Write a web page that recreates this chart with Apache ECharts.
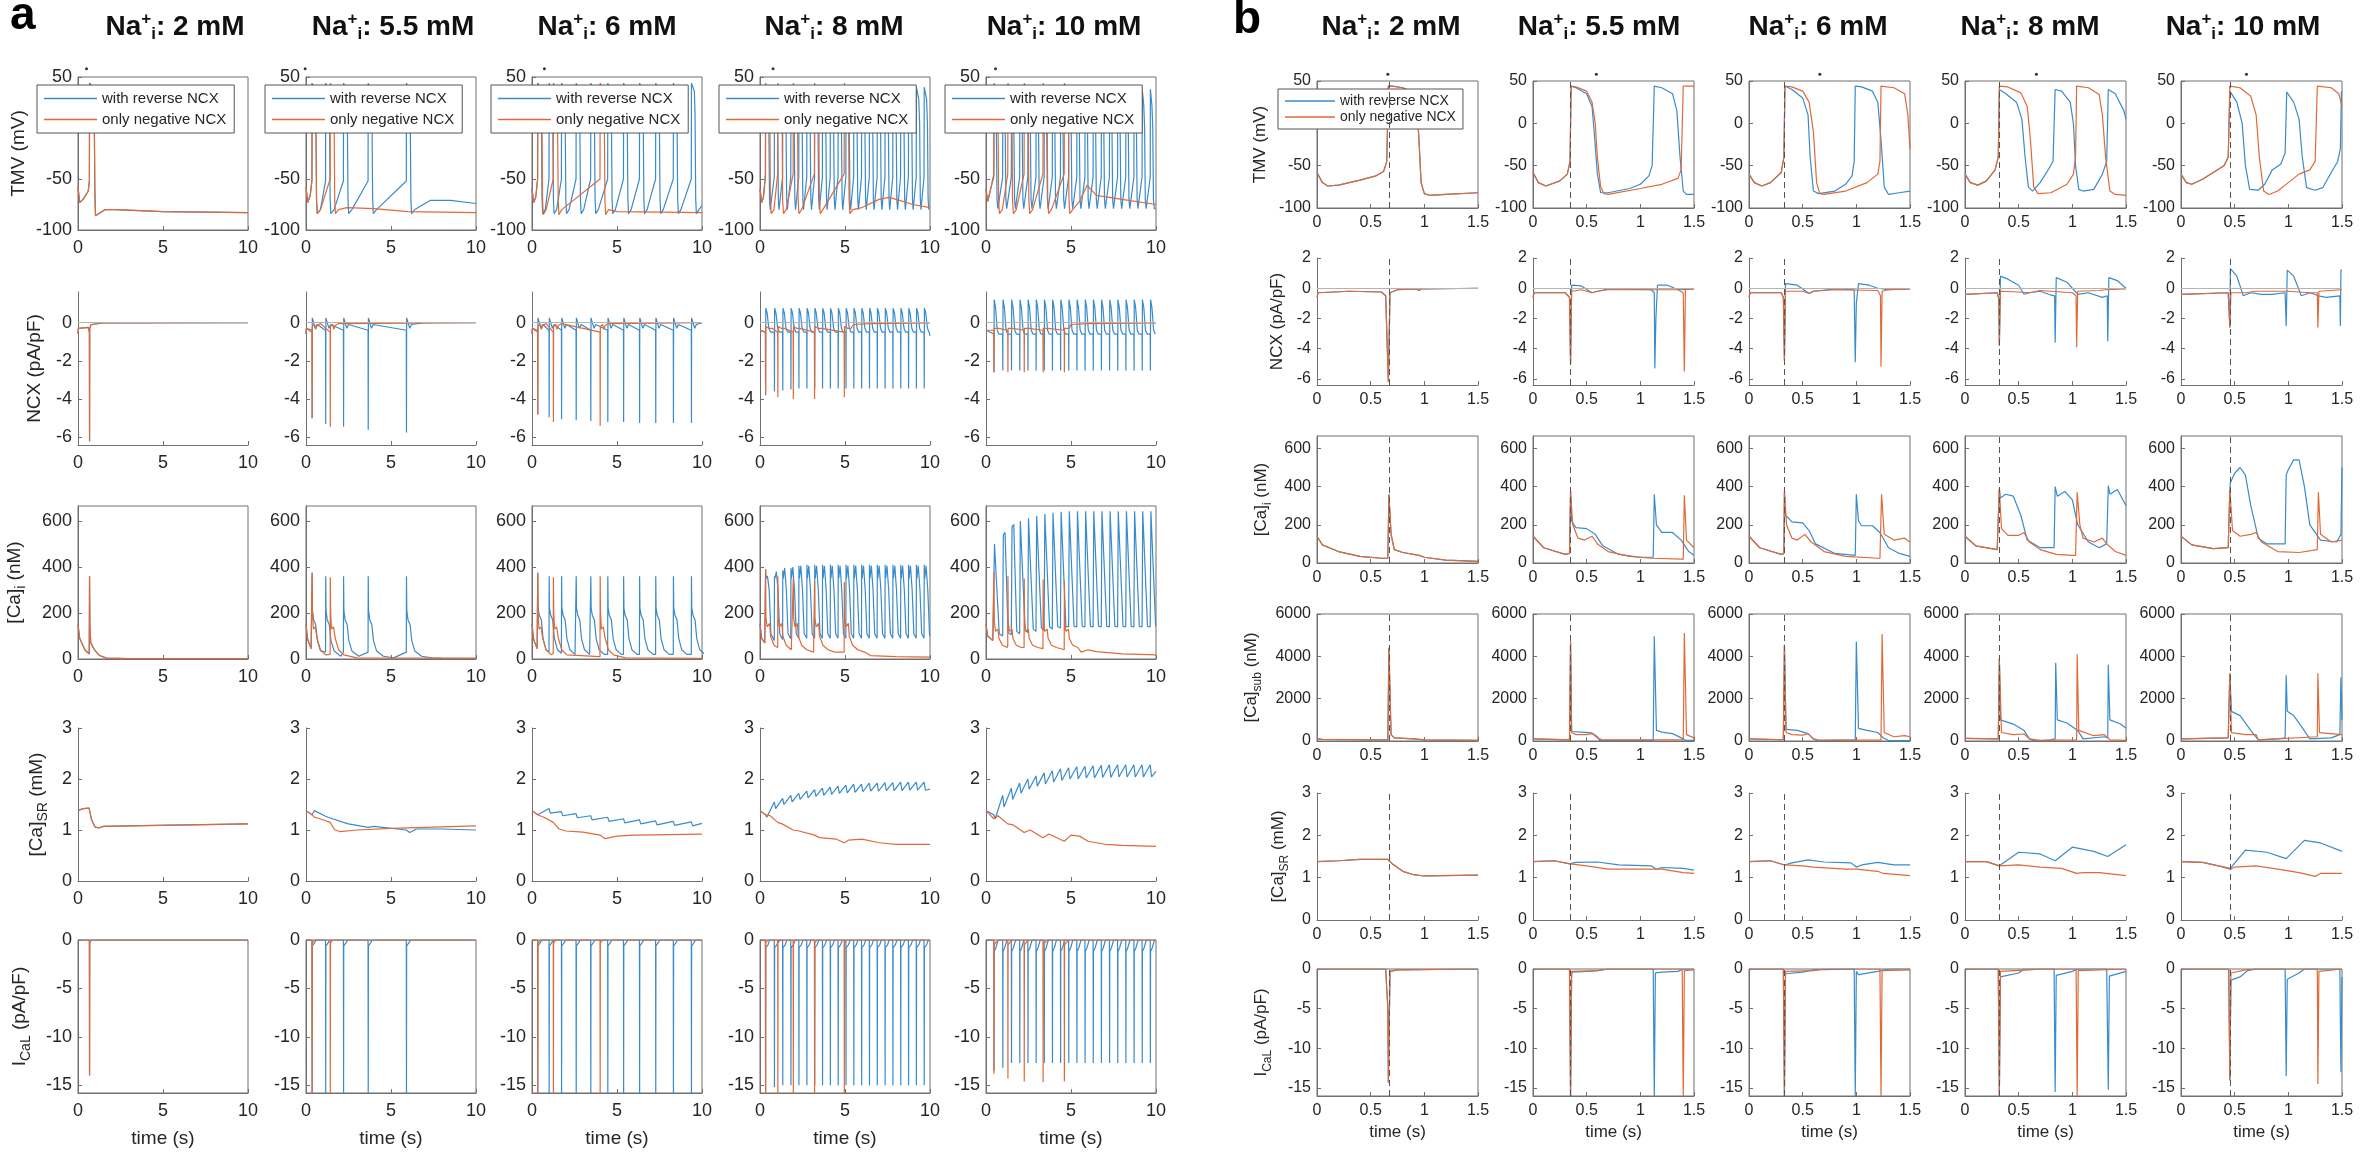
<!DOCTYPE html>
<html><head><meta charset="utf-8">
<script src="https://cdn.jsdelivr.net/npm/echarts@6/dist/echarts.min.js"></script>
<style>html,body{margin:0;padding:0;background:#fff}#c{width:2361px;height:1158px}</style>
</head><body><div id="c"></div>
<script>
// ---------------- DATA ----------------
const concLabels = ['2', '5.5', '6', '8', '10'];
const NAME_B = 'with reverse NCX', NAME_O = 'only negative NCX';

// Panel a: beat (upstroke) times, s
const aBeatsB = [
  [0.67],
  [0.35, 1.15, 2.2, 3.65, 5.9],
  [0.33, 1.0, 1.73, 2.59, 3.45, 4.45, 5.38, 6.32, 7.27, 8.31, 9.37],
  [0.32, 0.84, 1.33, 1.81, 2.28, 2.75, 3.21, 3.67, 4.13, 4.59, 5.05, 5.51, 5.97, 6.43, 6.89, 7.35, 7.81, 8.27, 8.73, 9.19, 9.65],
  [0.46, 0.98, 1.49, 1.98, 2.46, 2.94, 3.42, 3.9, 4.38, 4.86, 5.34, 5.82, 6.3, 6.78, 7.26, 7.74, 8.22, 8.7, 9.18, 9.66]
];
const aBeatsO = [[0.67], [0.35, 1.42], [0.33, 1.25, 4.0], [0.32, 1.04, 1.95, 3.2, 4.95], [0.46, 1.28, 2.24, 3.35, 4.6]];

// Panel a waveforms: pre (before first beat), tpl (per-beat shape [dt, value or per-beat values]), tail (after last beat), or pts
const aTMV_o = [
  {pre: [[0,-58],[0.1,-73],[0.3,-70],[0.6,-62]], tpl: [[0,-52],[0.01,44],[0.2,40],[0.28,30],[0.32,-60],[0.36,-86]], tail: [[1.1,-86],[1.6,-80],[2.2,-80],[5,-82],[10,-83]]},
  {pre: [[0,-58],[0.1,-73],[0.25,-66]], tpl: [[0,-50],[0.01,44],[0.18,36],[0.23,15],[0.27,-70],[0.31,-84],[0.5,-80]], tail: [[1.85,-84],[2.4,-78],[4,-79],[6,-82],[10,-83]]},
  {pre: [[0,-60],[0.1,-73],[0.22,-68]], tpl: [[0,-50],[0.01,44],[0.2,37],[0.25,15],[0.29,-70],[0.33,-85],[0.5,-80]], tail: [[4.4,-85],[5,-82],[10,-83]]},
  {pre: [[0,-60],[0.1,-73],[0.2,-68]], tpl: [[0,-45],[0.01,44],[0.2,36],[0.26,15],[0.29,-70],[0.34,-84],[0.5,-80]], tail: [[5.35,-84],[6,-78],[7,-70],[7.6,-68],[8.2,-71],[9,-75],[10,-78]]},
  {pre: [[0,-60],[0.1,-72],[0.3,-58]], tpl: [[0,-45],[0.01,44],[0.2,36],[0.25,10],[0.28,-70],[0.33,-84],[0.5,-80]], tail: [[5.0,-84],[5.5,-72],[5.95,-56],[6.15,-60],[6.5,-66],[8,-70],[10,-75]]}
];
const aTMV_b = [
  null,
  {pre: [[0,-58],[0.1,-73],[0.25,-66]], tpl: [[0,-52],[0.01,44],[0.18,36],[0.23,15],[0.27,-70],[0.31,-84],[0.5,-80]], tail: [[6.3,-84],[6.8,-76],[7.3,-71],[8.5,-71],[10,-74]]},
  {pre: [[0,-60],[0.1,-73],[0.22,-68]], tpl: [[0,-50],[0.01,44],[0.18,36],[0.22,15],[0.26,-70],[0.3,-84],[0.45,-80]], tail: [[9.75,-84],[10,-76]]},
  {pre: [[0,-60],[0.1,-73],[0.2,-68]], tpl: [[0,-48],[0.01,40],[0.15,28],[0.2,5],[0.24,-70],[0.28,-80]], tail: []},
  {pre: [[0,-60],[0.1,-72],[0.3,-58]], tpl: [[0,-48],[0.01,38],[0.1,22],[0.15,0],[0.19,-70],[0.24,-79]], tail: [[9.97,-79]]}
];
const aNCX_o = [
  {pre: [[0,-0.6],[0.02,-0.3],[0.6,-0.25]], tpl: [[0,-0.5],[0.01,-6.2],[0.02,-0.3],[0.1,-0.1]], tail: [[1.5,-0.02],[10,0]]},
  {pre: [[0,-0.6],[0.02,-0.3]], tpl: [[0,-0.5],[0.01,[-5,-5.45]],[0.02,-0.2],[0.15,-0.1],[0.22,-0.35],[0.3,-0.15],[0.5,-0.05]], tail: [[2,0],[10,0]]},
  {pre: [[0,-0.6],[0.02,-0.3]], tpl: [[0,-0.5],[0.01,[-4.8,-5.2,-5.4]],[0.02,-0.2],[0.15,-0.1],[0.22,-0.35],[0.3,-0.15],[0.5,-0.05]], tail: [[4.6,0],[10,0]]},
  {pre: [[0,-0.4],[0.02,-0.3]], tpl: [[0,-0.5],[0.01,[-3.7,-3.9,-4.0,-4.0,-3.9]],[0.02,-0.2],[0.2,-0.3],[0.4,-0.3]], tail: [[5.5,-0.1],[6.5,-0.05],[10,-0.02]]},
  {pre: [[0,-0.4],[0.02,-0.3]], tpl: [[0,-0.4],[0.01,-2.6],[0.02,-0.3],[0.3,-0.3]], tail: [[5,-0.1],[6,-0.05],[10,-0.02]]}
];
const aNCX_b = [
  null,
  {pre: [[0,-0.6],[0.02,-0.3]], tpl: [[0,-0.4],[0.01,[-5,-5.3,-5.45,-5.6,-5.75]],[0.02,0.25],[0.12,0.2],[0.2,-0.3],[0.3,-0.1],[0.4,-0.05]], tail: [[7,0],[10,0]]},
  {pre: [[0,-0.6],[0.02,-0.3]], tpl: [[0,-0.4],[0.01,[-4.8,-4.95,-5.05,-5.1,-5.15,-5.2,-5.2,-5.25]],[0.02,0.25],[0.12,0.2],[0.2,-0.3],[0.3,-0.1],[0.4,-0.05]], tail: [[10,0]]},
  {pre: [[0,-0.4],[0.02,-0.3]], tpl: [[0,-0.5],[0.01,[-3.8,-3.6,-3.55,-3.5,-3.45]],[0.02,0.75],[0.1,0.5],[0.2,-0.3],[0.3,-0.5]], tail: [[10,-0.7]]},
  {pre: [[0,-0.4],[0.02,-0.3]], tpl: [[0,-0.6],[0.01,[-2.6,-2.5]],[0.02,1.2],[0.1,0.8],[0.2,-0.4],[0.3,-0.6]], tail: [[10,-0.6]]}
];
const aCai_o = [
  {pre: [[0,150],[0.1,90],[0.4,40],[0.66,22]], tpl: [[0,22],[0.01,360],[0.03,150],[0.08,70],[0.3,40],[0.6,15],[1.0,4]], tail: [[3,2],[10,2]]},
  {pre: [[0,150],[0.1,85],[0.3,45]], tpl: [[0,[45,20]],[0.01,[375,355]],[0.03,200],[0.08,130],[0.2,140],[0.3,90],[0.5,40],[0.8,18]], tail: [[3,5],[10,3]]},
  {pre: [[0,150],[0.1,85],[0.3,45]], tpl: [[0,[45,25,10]],[0.01,[375,355,360]],[0.03,200],[0.08,130],[0.2,140],[0.3,90],[0.5,40],[0.8,18]], tail: [[5.5,5],[10,3]]},
  {pre: [[0,150],[0.1,90],[0.28,70]], tpl: [[0,[70,50,40,35,30]],[0.01,[390,360,350,340,335]],[0.03,180],[0.1,140],[0.25,155],[0.3,100],[0.5,60],[0.8,40],[1.2,30]], tail: [[6.5,15],[8,10],[10,8]]},
  {pre: [[0,150],[0.1,100],[0.4,80]], tpl: [[0,[80,60,50,45,40]],[0.01,[380,360,350,345,340]],[0.03,160],[0.1,120],[0.25,130],[0.3,90],[0.5,60],[0.8,50]], tail: [[5.6,30],[6.0,40],[6.5,32],[8,22],[10,18]]}
];
const aCai_b = [
  null,
  {pre: [[0,150],[0.1,85],[0.3,45]], tpl: [[0,[45,30]],[0.01,[375,360]],[0.03,210],[0.1,170],[0.22,150],[0.32,80],[0.5,35],[0.9,12],[1.5,5]], tail: [[8,4],[10,3]]},
  {pre: [[0,150],[0.1,85],[0.3,45]], tpl: [[0,[45,30,25,20]],[0.01,[375,360]],[0.03,220],[0.1,190],[0.22,170],[0.32,90],[0.5,40],[0.8,20]], tail: [[10,15]]},
  {pre: [[0,150],[0.1,90],[0.28,70]], tpl: [[0,[70,80,85,88,90]],[0.01,[390,360,385,395,405,410]],[0.04,350],[0.12,[360,380,395,400,405]],[0.22,300],[0.32,110]], tail: [[10,100]]},
  {pre: [[0,150],[0.1,100],[0.4,80]], tpl: [[0,[80,100,105,110,115,120,125,130,135,140]],[0.04,[500,540,575,600,612,622,630,636,640,642]],[0.14,[500,550,585,605,618,628,635,640,643,645]],[0.32,[110,115,120,125,130,135,140,140,142,142]]], tail: [[10,140]]}
];
const aCaSR_o = [
  {pts: [[0,1.38],[0.3,1.42],[0.65,1.43],[0.8,1.2],[1.0,1.06],[1.2,1.04],[1.5,1.07],[3,1.08],[10,1.12]]},
  {pts: [[0,1.38],[0.35,1.3],[0.5,1.25],[1.0,1.2],[1.42,1.15],[1.7,1.0],[2.0,0.97],[3,1.0],[5,1.03],[10,1.08]]},
  {pts: [[0,1.38],[0.33,1.3],[0.7,1.25],[1.25,1.15],[1.6,1.02],[2,0.98],[3,0.96],[4,0.9],[4.3,0.83],[5,0.88],[6,0.9],[10,0.92]]},
  {pts: [[0,1.38],[0.32,1.3],[0.6,1.28],[1.04,1.15],[1.3,1.12],[1.95,1.0],[2.3,0.98],[3.2,0.9],[3.5,0.85],[4.5,0.82],[4.95,0.75],[5.2,0.8],[6,0.82],[7,0.75],[8,0.72],[10,0.72]]},
  {pts: [[0,1.38],[0.46,1.22],[0.7,1.28],[1.28,1.12],[1.6,1.1],[2.24,0.95],[2.6,1.0],[3.35,0.85],[3.7,0.92],[4.6,0.78],[5.0,0.9],[5.5,0.88],[6,0.78],[7,0.72],[8,0.7],[10,0.68]]}
];
const aCaSR_b = [
  null,
  {pts: [[0,1.38],[0.35,1.3],[0.5,1.38],[1.15,1.27],[1.3,1.25],[2.2,1.15],[2.5,1.12],[3.65,1.05],[4.0,1.07],[5.9,1.0],[6.1,0.95],[6.5,1.02],[8,1.02],[10,1.0]]},
  {pre: [[0,1.38]], tpl: [[0,[1.3,1.42,1.36,1.32,1.28,1.25,1.22,1.2,1.18,1.17,1.16]],[0.08,[1.28,1.33,1.28,1.24,1.2,1.17,1.14,1.12,1.1,1.09,1.08]]], tail: [[10,1.13]]},
  {pre: [[0,1.38]], tpl: [[0,[1.3,1.55,1.62,1.68,1.72,1.76,1.79,1.82,1.84,1.86,1.88,1.9,1.9,1.92,1.92,1.93,1.93,1.94,1.94,1.94,1.94]],[0.08,[1.25,1.42,1.5,1.55,1.6,1.63,1.66,1.68,1.7,1.72,1.73,1.74,1.75,1.76,1.76,1.77,1.77,1.77,1.78,1.78,1.78]]], tail: [[10,1.8]]},
  {pre: [[0,1.38]], tpl: [[0,[1.3,1.68,1.82,1.92,2.0,2.06,2.12,2.16,2.2,2.22,2.24,2.25,2.26,2.27,2.28]],[0.08,[1.22,1.45,1.6,1.72,1.8,1.86,1.9,1.94,1.97,2.0,2.0,2.02,2.02,2.03,2.03,2.04]]], tail: [[10,2.15]]}
];
const aICaL_o = [
  {pre: [[0,0]], tpl: [[0,0],[0.01,-14],[0.02,-0.3],[0.1,0]], tail: [[10,0]]},
  {pre: [[0,0]], tpl: [[0,0],[0.01,-16],[0.02,-0.3],[0.15,0]], tail: [[10,0]]},
  {pre: [[0,0]], tpl: [[0,0],[0.01,-16],[0.02,-0.3],[0.15,0]], tail: [[10,0]]},
  {pre: [[0,0]], tpl: [[0,0],[0.01,-16],[0.02,-0.3],[0.15,0]], tail: [[10,0]]},
  {pre: [[0,0]], tpl: [[0,0],[0.01,[-13.8,-14.3,-14.6,-14.7,-14.6]],[0.02,-0.5],[0.15,-0.2],[0.3,0]], tail: [[10,0]]}
];
const aICaL_b = [
  null,
  {pre: [[0,0]], tpl: [[0,0],[0.01,-16],[0.02,-0.6],[0.15,-0.3],[0.25,0]], tail: [[10,0]]},
  {pre: [[0,0]], tpl: [[0,0],[0.01,-16],[0.02,-0.6],[0.15,-0.3],[0.25,0]], tail: [[10,0]]},
  {pre: [[0,0]], tpl: [[0,0],[0.01,[-16,-15.2,-15]],[0.02,-0.8],[0.15,-0.5],[0.25,0]], tail: [[10,0]]},
  {pre: [[0,0]], tpl: [[0,0],[0.01,[-13.5,-13.2,-12.7]],[0.02,-1.2],[0.12,-0.8],[0.25,0]], tail: [[10,0]]}
];
const aDots = [0.5, -0.05, 0.73, 0.77, 0.56];

// Panel b: stimulus (dashed) times and traces, [t, value]
const bStim = [0.665, 0.35, 0.33, 0.32, 0.46];
const bDots = [0.66, 0.59, 0.66, 0.665, 0.61];
const bTMV_o = [
  [[0,-58],[0.05,-70],[0.1,-74],[0.2,-73],[0.4,-67],[0.55,-62],[0.62,-57],[0.65,-45],[0.665,44],[0.7,44],[0.8,42],[0.9,36],[0.93,25],[0.95,-20],[0.97,-70],[1.0,-83],[1.05,-85],[1.2,-84],[1.5,-82]],
  [[0,-58],[0.05,-70],[0.12,-74],[0.25,-68],[0.32,-60],[0.345,-45],[0.355,44],[0.4,43],[0.5,38],[0.55,25],[0.58,0],[0.6,-40],[0.63,-75],[0.66,-83],[0.7,-84],[1.0,-77],[1.2,-72],[1.35,-65],[1.38,-55],[1.4,44],[1.5,44]],
  [[0,-60],[0.05,-70],[0.12,-74],[0.2,-70],[0.3,-58],[0.325,-40],[0.335,44],[0.4,43],[0.5,38],[0.56,25],[0.6,-10],[0.63,-70],[0.66,-83],[0.7,-84],[0.9,-80],[1.1,-70],[1.2,-60],[1.22,-45],[1.23,44],[1.35,42],[1.45,35],[1.48,10],[1.5,-30]],
  [[0,-60],[0.05,-70],[0.12,-73],[0.2,-68],[0.28,-55],[0.31,-40],[0.32,44],[0.4,43],[0.52,36],[0.58,20],[0.61,-20],[0.64,-75],[0.68,-83],[0.8,-82],[0.95,-72],[1.01,-60],[1.03,-40],[1.04,44],[1.15,42],[1.25,34],[1.28,10],[1.31,-40],[1.35,-80],[1.4,-84],[1.5,-85]],
  [[0,-60],[0.05,-70],[0.1,-72],[0.2,-66],[0.3,-58],[0.4,-50],[0.44,-40],[0.455,44],[0.55,42],[0.65,32],[0.7,10],[0.73,-40],[0.77,-80],[0.82,-84],[0.9,-80],[1.0,-70],[1.1,-60],[1.2,-55],[1.25,-45],[1.27,44],[1.4,42],[1.47,35],[1.5,20]]
];
const bTMV_b = [
  null,
  [[0.355,44],[0.4,42],[0.5,35],[0.55,20],[0.57,-10],[0.6,-60],[0.63,-82],[0.7,-82],[0.9,-77],[1.0,-72],[1.08,-62],[1.11,-50],[1.13,44],[1.2,42],[1.3,35],[1.34,15],[1.37,-40],[1.4,-80],[1.43,-84],[1.5,-84]],
  [[0.335,44],[0.4,40],[0.5,30],[0.55,10],[0.57,-40],[0.6,-80],[0.65,-83],[0.8,-80],[0.9,-72],[0.96,-62],[0.98,-45],[0.99,44],[1.05,43],[1.15,38],[1.2,25],[1.23,-20],[1.26,-75],[1.3,-84],[1.4,-82],[1.5,-80]],
  [[0.32,40],[0.38,35],[0.48,25],[0.53,5],[0.56,-40],[0.59,-75],[0.63,-80],[0.7,-70],[0.76,-58],[0.82,-45],[0.84,40],[0.9,38],[0.98,25],[1.01,0],[1.03,-50],[1.06,-78],[1.1,-80],[1.2,-78],[1.28,-60],[1.32,-45],[1.335,40],[1.4,35],[1.48,15],[1.5,5]],
  [[0.455,38],[0.52,25],[0.57,0],[0.6,-50],[0.64,-78],[0.72,-79],[0.78,-72],[0.85,-55],[0.93,-48],[0.97,-35],[0.985,37],[1.05,25],[1.1,5],[1.13,-40],[1.17,-76],[1.25,-79],[1.32,-76],[1.4,-58],[1.46,-45],[1.485,-30],[1.495,38],[1.5,38]]
];
const bNCX_o = [
  [[0,-0.6],[0.01,-0.3],[0.3,-0.2],[0.6,-0.25],[0.64,-0.5],[0.665,-6.2],[0.68,-0.3],[0.75,-0.1],[0.93,-0.05],[0.95,-0.15],[0.97,-0.05],[1.5,0]],
  [[0,-0.6],[0.01,-0.3],[0.3,-0.3],[0.34,-0.6],[0.35,-5],[0.36,-0.2],[0.45,-0.1],[0.55,-0.3],[0.6,-0.2],[0.7,-0.1],[1.35,-0.1],[1.4,-0.3],[1.41,-5.5],[1.42,-0.1],[1.5,-0.05]],
  [[0,-0.6],[0.01,-0.3],[0.3,-0.3],[0.32,-0.6],[0.33,-4.8],[0.34,-0.2],[0.5,-0.2],[0.56,-0.35],[0.6,-0.2],[0.8,-0.1],[1.2,-0.15],[1.225,-0.5],[1.23,-5.2],[1.24,-0.2],[1.3,-0.1],[1.5,-0.05]],
  [[0,-0.4],[0.01,-0.3],[0.3,-0.3],[0.315,-0.7],[0.32,-3.8],[0.33,-0.2],[0.5,-0.25],[0.6,-0.3],[0.7,-0.15],[1.0,-0.3],[1.035,-0.5],[1.04,-3.9],[1.05,-0.2],[1.25,-0.15],[1.3,-0.1],[1.5,-0.05]],
  [[0,-0.4],[0.01,-0.3],[0.44,-0.3],[0.455,-2.6],[0.465,-0.3],[0.6,-0.3],[0.7,-0.2],[1.0,-0.2],[1.2,-0.3],[1.27,-0.3],[1.275,-2.6],[1.285,-0.2],[1.5,-0.1]]
];
const bNCX_b = [
  null,
  [[0.355,-5],[0.36,0.2],[0.45,0.15],[0.55,-0.3],[0.6,-0.2],[0.7,-0.05],[1.1,-0.1],[1.13,-0.3],[1.135,-5.3],[1.145,-2],[1.16,0.2],[1.25,0.2],[1.32,0],[1.36,-0.1],[1.5,-0.05]],
  [[0.335,-4.8],[0.34,0.3],[0.45,0.2],[0.56,-0.35],[0.6,-0.2],[0.8,-0.05],[0.98,-0.1],[0.99,-4.9],[1.0,-1],[1.02,0.3],[1.12,0.2],[1.2,0],[1.3,-0.1],[1.5,-0.05]],
  [[0.325,-3.8],[0.33,0.8],[0.4,0.6],[0.5,0.2],[0.55,-0.4],[0.6,-0.3],[0.7,-0.2],[0.8,-0.45],[0.835,-0.5],[0.84,-3.6],[0.85,0.7],[0.95,0.4],[1.0,0],[1.05,-0.4],[1.15,-0.3],[1.28,-0.6],[1.325,-0.5],[1.33,-3.5],[1.34,0.7],[1.42,0.5],[1.5,0.0]],
  [[0.455,-2.6],[0.46,1.3],[0.52,0.8],[0.58,-0.5],[0.65,-0.3],[0.75,-0.4],[0.85,-0.4],[0.97,-0.3],[0.98,-2.5],[0.99,1.2],[1.05,0.8],[1.12,-0.5],[1.2,-0.3],[1.28,-0.5],[1.35,-0.6],[1.48,-0.5],[1.485,-2.5],[1.49,1.2],[1.5,1.2]]
];
const bCai_o = [
  [[0,140],[0.05,95],[0.2,60],[0.4,35],[0.6,25],[0.66,25],[0.67,360],[0.69,150],[0.72,70],[0.8,55],[0.95,40],[1.0,30],[1.2,15],[1.5,8]],
  [[0,140],[0.1,80],[0.3,45],[0.34,50],[0.35,375],[0.37,200],[0.42,130],[0.48,120],[0.55,140],[0.6,100],[0.7,60],[0.9,35],[1.1,25],[1.4,20],[1.41,355],[1.43,120],[1.5,80]],
  [[0,140],[0.1,80],[0.3,45],[0.325,50],[0.33,375],[0.35,200],[0.4,130],[0.45,120],[0.52,150],[0.58,110],[0.7,60],[0.9,35],[1.2,25],[1.22,25],[1.235,360],[1.26,150],[1.35,120],[1.45,130],[1.5,110]],
  [[0,140],[0.1,90],[0.3,70],[0.315,75],[0.32,390],[0.34,180],[0.4,145],[0.5,145],[0.55,160],[0.6,110],[0.7,70],[0.85,45],[1.0,40],[1.03,40],[1.045,370],[1.07,200],[1.1,130],[1.2,110],[1.28,130],[1.32,100],[1.4,60],[1.5,40]],
  [[0,140],[0.1,95],[0.3,75],[0.44,80],[0.455,385],[0.48,170],[0.55,140],[0.65,150],[0.7,160],[0.75,110],[0.9,60],[1.1,55],[1.27,70],[1.28,370],[1.3,150],[1.4,110],[1.5,120]]
];
const bCai_b = [
  null,
  [[0.355,375],[0.36,220],[0.4,185],[0.5,180],[0.58,150],[0.65,90],[0.8,45],[1.0,30],[1.12,30],[1.13,360],[1.15,200],[1.2,160],[1.3,160],[1.38,120],[1.45,60],[1.5,40]],
  [[0.335,375],[0.34,250],[0.4,215],[0.5,210],[0.56,170],[0.62,100],[0.8,50],[0.99,40],[1.0,360],[1.02,220],[1.05,195],[1.15,195],[1.22,160],[1.3,80],[1.4,50],[1.5,35]],
  [[0.325,390],[0.33,340],[0.38,360],[0.45,350],[0.52,250],[0.58,120],[0.7,80],[0.83,80],[0.84,400],[0.86,350],[0.93,375],[1.0,330],[1.05,200],[1.15,110],[1.25,80],[1.32,100],[1.335,405],[1.35,360],[1.42,385],[1.5,300]],
  [[0.46,420],[0.5,470],[0.55,500],[0.6,460],[0.65,300],[0.72,130],[0.8,100],[0.97,100],[0.98,460],[1.0,490],[1.05,540],[1.1,540],[1.15,400],[1.2,200],[1.3,120],[1.45,110],[1.49,150],[1.5,500]]
];
const bCasub_o = [
  [[0,100],[0.05,80],[0.6,50],[0.66,50],[0.67,4400],[0.69,300],[0.72,150],[0.9,100],[1.0,50],[1.5,30]],
  [[0,100],[0.34,50],[0.35,4700],[0.36,400],[0.4,300],[0.5,300],[0.55,350],[0.6,150],[0.65,50],[1.4,50],[1.41,5100],[1.43,300],[1.5,150]],
  [[0,100],[0.32,60],[0.33,4550],[0.345,400],[0.4,300],[0.5,280],[0.55,350],[0.6,100],[0.65,40],[1.23,40],[1.24,5050],[1.26,400],[1.35,200],[1.45,250],[1.5,200]],
  [[0,120],[0.31,100],[0.32,3900],[0.34,400],[0.45,300],[0.55,330],[0.6,100],[0.7,30],[1.04,50],[1.045,4100],[1.06,500],[1.2,250],[1.3,300],[1.35,50],[1.5,30]],
  [[0,100],[0.44,150],[0.455,3200],[0.47,400],[0.6,300],[0.7,300],[0.72,50],[1.27,200],[1.275,3200],[1.29,400],[1.5,300]]
];
const bCasub_b = [
  null,
  [[0.355,4700],[0.36,450],[0.45,420],[0.55,380],[0.6,200],[0.62,30],[1.12,30],[1.13,4950],[1.15,500],[1.2,420],[1.3,350],[1.4,100],[1.42,30],[1.5,30]],
  [[0.335,4550],[0.345,550],[0.45,500],[0.55,350],[0.6,100],[0.63,20],[0.99,50],[1.0,4700],[1.02,600],[1.1,500],[1.2,400],[1.25,150],[1.3,20],[1.5,20]],
  [[0.325,3900],[0.33,1000],[0.45,800],[0.55,500],[0.6,100],[0.65,0],[0.8,50],[0.84,100],[0.845,3700],[0.86,1000],[0.95,850],[1.05,500],[1.1,100],[1.3,200],[1.33,150],[1.335,3600],[1.35,1000],[1.45,800],[1.5,600]],
  [[0.46,3200],[0.47,1400],[0.55,1200],[0.65,500],[0.72,50],[0.9,100],[0.97,150],[0.98,3100],[0.99,1400],[1.05,1200],[1.12,700],[1.2,100],[1.4,150],[1.48,300],[1.49,3000],[1.5,1000]]
];
const bCaSR_o = [
  [[0,1.38],[0.2,1.4],[0.4,1.43],[0.66,1.43],[0.7,1.33],[0.8,1.15],[0.9,1.07],[1.0,1.04],[1.5,1.06]],
  [[0,1.38],[0.2,1.4],[0.33,1.33],[0.5,1.28],[0.7,1.2],[1.0,1.2],[1.2,1.2],[1.4,1.12],[1.5,1.1]],
  [[0,1.38],[0.2,1.4],[0.33,1.3],[0.5,1.28],[0.6,1.25],[0.9,1.2],[1.0,1.2],[1.2,1.15],[1.25,1.1],[1.5,1.05]],
  [[0,1.38],[0.2,1.38],[0.32,1.28],[0.5,1.3],[0.7,1.25],[0.9,1.22],[1.04,1.1],[1.1,1.12],[1.25,1.12],[1.5,1.05]],
  [[0,1.38],[0.2,1.36],[0.35,1.28],[0.46,1.2],[0.5,1.25],[0.7,1.28],[0.9,1.2],[1.1,1.12],[1.25,1.03],[1.3,1.1],[1.5,1.1]]
];
const bCaSR_b = [
  null,
  [[0.35,1.33],[0.4,1.36],[0.6,1.37],[0.8,1.3],[1.1,1.28],[1.15,1.2],[1.2,1.24],[1.4,1.22],[1.5,1.18]],
  [[0.33,1.3],[0.4,1.35],[0.55,1.42],[0.7,1.37],[0.95,1.35],[1.0,1.25],[1.05,1.3],[1.2,1.36],[1.35,1.3],[1.5,1.3]],
  [[0.32,1.28],[0.5,1.6],[0.7,1.56],[0.84,1.4],[1.0,1.72],[1.2,1.62],[1.33,1.5],[1.5,1.78]],
  [[0.46,1.22],[0.6,1.65],[0.8,1.6],[0.98,1.45],[1.15,1.88],[1.3,1.82],[1.5,1.62]]
];
const bICaL_o = [
  [[0,0],[0.64,0],[0.66,-5],[0.665,-14.3],[0.68,-0.3],[0.75,-0.1],[1.5,0]],
  [[0,0],[0.34,0],[0.35,-16],[0.36,-0.3],[0.6,-0.2],[0.7,0],[1.39,0],[1.4,-16],[1.41,-0.2],[1.5,-0.1]],
  [[0,0],[0.32,0],[0.33,-16],[0.34,-0.3],[0.6,-0.2],[0.7,0],[1.22,0],[1.23,-16],[1.24,-0.2],[1.5,-0.1]],
  [[0,0],[0.31,0],[0.32,-16],[0.33,-0.3],[0.6,-0.1],[0.7,0],[1.035,0],[1.045,-16],[1.055,-0.2],[1.5,0]],
  [[0,0],[0.445,0],[0.455,-14],[0.465,-0.5],[0.6,-0.1],[0.7,0],[1.27,0],[1.275,-14.5],[1.285,-0.3],[1.5,0]]
];
const bICaL_b = [
  null,
  [[0.355,-16],[0.36,-0.4],[0.5,-0.3],[0.6,-0.2],[0.7,0],[1.12,0],[1.13,-16],[1.14,-0.5],[1.2,-0.4],[1.35,-0.3],[1.4,0],[1.5,0]],
  [[0.335,-16],[0.34,-0.6],[0.5,-0.4],[0.6,-0.1],[0.98,0],[0.99,-16],[1.0,-0.3],[1.02,-0.7],[1.2,-0.3],[1.3,0],[1.5,0]],
  [[0.325,-16],[0.33,-1],[0.5,-0.5],[0.55,0],[0.83,0],[0.84,-15.5],[0.85,-0.8],[1.0,-0.3],[1.05,0],[1.32,0],[1.335,-15.2],[1.345,-0.9],[1.5,-0.3]],
  [[0.46,-14],[0.465,-1.4],[0.55,-1],[0.62,-0.2],[0.7,0],[0.97,0],[0.98,-13.5],[0.99,-1.3],[1.1,-0.5],[1.15,0],[1.48,0],[1.49,-13],[1.5,-1]]
];

// ---------------- LAYOUT / STYLE ----------------
const FONT = "'Liberation Sans', Arial, Helvetica, sans-serif";
const BLUE = '#3a8bcb', ORANGE = '#df6a38', AX = '#707070', TXT = '#262626';
const aLeft = [78, 306, 532, 760, 986], aW = 170, aTop = [77, 292, 506, 728, 940], aH = 153;
const bLeft = [1317, 1533, 1749, 1965, 2181], bW = 161, bTop = [81, 258, 436, 614, 793, 969], bH = 127;
const aTitleX = [175, 393, 607, 834, 1064], bTitleX = [1391, 1599, 1818, 2030, 2243];

function build(spec, beats) {
  if (spec.pts) return spec.pts;
  const pts = [];
  const first = beats[0] + spec.tpl[0][0];
  (spec.pre || []).forEach(p => { if (p[0] < first) pts.push(p); });
  beats.forEach((t, i) => {
    const next = i + 1 < beats.length ? beats[i + 1] : Infinity;
    spec.tpl.forEach(([dt, v]) => {
      const tt = t + dt;
      if (tt < next - 0.004) pts.push([Math.round(tt * 1000) / 1000, Array.isArray(v) ? v[Math.min(i, v.length - 1)] : v]);
    });
  });
  const lastT = pts.length ? pts[pts.length - 1][0] : -1;
  (spec.tail || []).forEach(p => { if (p[0] > lastT) pts.push(p); });
  return pts;
}
function withPrefix(o, b) { return o.filter(p => p[0] < b[0][0]).concat(b); }

const grids = [], xAxis = [], yAxis = [], series = [], legend = [], graphic = [];

function addGrid(o) {
  const g = grids.length;
  grids.push({left: o.left, top: o.top, width: o.w, height: o.h, show: o.box, borderColor: AX, borderWidth: 1,
    backgroundColor: 'transparent', containLabel: false, outerBoundsMode: 'none'});
  xAxis.push({gridIndex: g, type: 'value', min: o.xmin, max: o.xmax, interval: o.xint,
    axisLine: {show: true, onZero: false, lineStyle: {color: AX, width: 1}},
    axisTick: {show: true, inside: true, length: 4, lineStyle: {color: AX}},
    axisLabel: {fontSize: o.fs, color: TXT, margin: o.xm, fontFamily: FONT, formatter: v => String(v)},
    splitLine: {show: false},
    name: o.xname || '', nameLocation: 'middle', nameGap: o.xnameGap,
    nameTextStyle: {fontSize: o.nfs, color: TXT, fontFamily: FONT, fontWeight: 'normal'}});
  const sub = Math.round(o.nfs * 0.72);
  yAxis.push({gridIndex: g, type: 'value', min: o.ymin, max: o.ymax,
    axisLine: {show: true, onZero: false, lineStyle: {color: AX, width: 1}},
    axisTick: {show: true, inside: true, length: 4, lineStyle: {color: AX}, customValues: o.ticks},
    axisLabel: {fontSize: o.fs, color: TXT, margin: o.ym, fontFamily: FONT, customValues: o.ticks, formatter: v => String(v)},
    splitLine: {show: false},
    name: o.yname || '', nameLocation: 'middle', nameGap: o.ynameGap, nameRotate: 90,
    nameTextStyle: {fontSize: o.nfs, color: TXT, fontFamily: FONT, fontWeight: 'normal', lineHeight: o.nfs + 8,
      rich: {s: {fontSize: sub, lineHeight: sub, verticalAlign: 'bottom', color: TXT, fontFamily: FONT, fontWeight: 'normal'}}}});
  return g;
}
function addLine(g, data, color, name, extra) {
  series.push(Object.assign({type: 'line', name, xAxisIndex: g, yAxisIndex: g, data, symbol: 'none', showSymbol: false,
    animation: false, silent: true, lineStyle: {width: 1.2, color}, itemStyle: {color}, z: 2}, extra || {}));
}
function addDot(g, t, y) {
  series.push({type: 'scatter', xAxisIndex: g, yAxisIndex: g, data: [[t, y]], symbolSize: 3, clip: false, silent: true,
    animation: false, itemStyle: {color: '#000'}});
}
function addLegend(left, top, fs, itemW, gap, pad) {
  legend.push({left, top, orient: 'vertical', data: [NAME_B, NAME_O], icon: 'rect', itemWidth: itemW, itemHeight: 1.5,
    itemGap: gap, backgroundColor: '#fff', borderColor: '#555', borderWidth: 1, borderRadius: 0, padding: pad,
    selectedMode: false, textStyle: {fontSize: fs, color: TXT, fontFamily: FONT}});
}
function titleText(x, y, conc, fs) {
  const base = {fontSize: fs, fontWeight: 'bold', fontFamily: FONT, fill: '#111', lineHeight: fs + 4};
  const small = Math.round(fs * 0.6);
  graphic.push({type: 'text', x, y, silent: true, style: {
    text: '{b|Na}{p|+}{s|i}{b|: ' + conc + ' mM}', align: 'center', verticalAlign: 'middle',
    rich: {b: base,
      p: {fontSize: small, fontWeight: 'bold', fontFamily: FONT, fill: '#111', lineHeight: small, verticalAlign: 'top'},
      s: {fontSize: small, fontWeight: 'bold', fontFamily: FONT, fill: '#111', lineHeight: small, verticalAlign: 'bottom'}}}});
}

const aRows = [
  {yname: 'TMV (mV)', ymin: -100, ymax: 50, ticks: [-100, -50, 0, 50], box: true, gap: 46, O: aTMV_o, B: aTMV_b},
  {yname: 'NCX (pA/pF)', ymin: -6.4, ymax: 1.6, ticks: [-6, -4, -2, 0], box: false, gap: 30, zero: true, O: aNCX_o, B: aNCX_b},
  {yname: '[Ca]{s|i} (nM)', ymin: 0, ymax: 665, ticks: [0, 200, 400, 600], box: true, gap: 50, O: aCai_o, B: aCai_b},
  {yname: '[Ca]{s|SR} (mM)', ymin: 0, ymax: 3, ticks: [0, 1, 2, 3], box: false, gap: 28, O: aCaSR_o, B: aCaSR_b},
  {yname: 'I{s|CaL} (pA/pF)', ymin: -15.8, ymax: 0, ticks: [-15, -10, -5, 0], box: true, gap: 45, O: aICaL_o, B: aICaL_b}
];
aRows.forEach((row, r) => {
  for (let c = 0; c < 5; c++) {
    const g = addGrid({left: aLeft[c], top: aTop[r], w: aW, h: aH, box: row.box, xmin: 0, xmax: 10, xint: 5,
      fs: 18, nfs: 19, xm: 9, ym: 6, ymin: row.ymin, ymax: row.ymax, ticks: row.ticks,
      yname: c === 0 ? row.yname : '', ynameGap: row.gap, xname: r === 4 ? 'time (s)' : '', xnameGap: 36});
    const oData = build(row.O[c], aBeatsO[c]);
    const bData = row.B[c] ? build(row.B[c], aBeatsB[c]) : oData;
    addLine(g, bData, BLUE, NAME_B);
    const extra = {};
    if (row.zero) extra.markLine = {silent: true, symbol: 'none', animation: false, label: {show: false},
      lineStyle: {color: '#b4b4b4', width: 1, type: 'solid'}, data: [{yAxis: 0}]};
    addLine(g, oData, ORANGE, NAME_O, extra);
    if (r === 0) { addDot(g, aDots[c], 58); addLegend(aLeft[c] - 41, 85, 15, 53, 6, [6, 8, 6, 7]); }
  }
});

const bRows = [
  {yname: 'TMV (mV)', ymin: -100, ymax: 50, ticks: [-100, -50, 0, 50], box: true, gap: 44, O: bTMV_o, B: bTMV_b},
  {yname: 'NCX (pA/pF)', ymin: -6.4, ymax: 2, ticks: [-6, -4, -2, 0, 2], box: false, gap: 27, zero: true, O: bNCX_o, B: bNCX_b},
  {yname: '[Ca]{s|i} (nM)', ymin: 0, ymax: 665, ticks: [0, 200, 400, 600], box: true, gap: 43, O: bCai_o, B: bCai_b},
  {yname: '[Ca]{s|sub} (nM)', ymin: 0, ymax: 6000, ticks: [0, 2000, 4000, 6000], box: true, gap: 53, O: bCasub_o, B: bCasub_b},
  {yname: '[Ca]{s|SR} (mM)', ymin: 0, ymax: 3, ticks: [0, 1, 2, 3], box: false, gap: 26, O: bCaSR_o, B: bCaSR_b},
  {yname: 'I{s|CaL} (pA/pF)', ymin: -16, ymax: 0, ticks: [-15, -10, -5, 0], box: true, gap: 43, O: bICaL_o, B: bICaL_b}
];
bRows.forEach((row, r) => {
  for (let c = 0; c < 5; c++) {
    const g = addGrid({left: bLeft[c], top: bTop[r], w: bW, h: bH, box: row.box, xmin: 0, xmax: 1.5, xint: 0.5,
      fs: 16, nfs: 17, xm: 7, ym: 6, ymin: row.ymin, ymax: row.ymax, ticks: row.ticks,
      yname: c === 0 ? row.yname : '', ynameGap: row.gap, xname: r === 5 ? 'time (s)' : '', xnameGap: 28});
    const oData = row.O[c];
    const bData = row.B[c] ? withPrefix(oData, row.B[c]) : oData;
    addLine(g, bData, BLUE, NAME_B);
    const ml = [{xAxis: bStim[c], lineStyle: {color: '#555', width: 1, type: [6, 4]}}];
    if (row.zero) ml.push({yAxis: 0, lineStyle: {color: '#b4b4b4', width: 1, type: 'solid'}});
    addLine(g, oData, ORANGE, NAME_O, {markLine: {silent: true, symbol: 'none', animation: false, label: {show: false}, data: ml}});
    if (r === 0) addDot(g, bDots[c], 58);
  }
});
addLegend(1278, 89, 14, 50, 2, [5, 7, 5, 7]);

for (let c = 0; c < 5; c++) {
  titleText(aTitleX[c], 27, concLabels[c], 28);
  titleText(bTitleX[c], 27, concLabels[c], 28);
}
graphic.push({type: 'text', x: 10, y: 16, silent: true, style: {text: 'a', fontSize: 46, fontWeight: 'bold', fontFamily: FONT, fill: '#000', align: 'left', verticalAlign: 'middle'}});
graphic.push({type: 'text', x: 1233, y: 20, silent: true, style: {text: 'b', fontSize: 46, fontWeight: 'bold', fontFamily: FONT, fill: '#000', align: 'left', verticalAlign: 'middle'}});

const chart = echarts.init(document.getElementById('c'), null, {renderer: 'canvas'});
chart.setOption({backgroundColor: '#fff', animation: false, grid: grids, xAxis, yAxis, series, legend, graphic});
</script></body></html>
